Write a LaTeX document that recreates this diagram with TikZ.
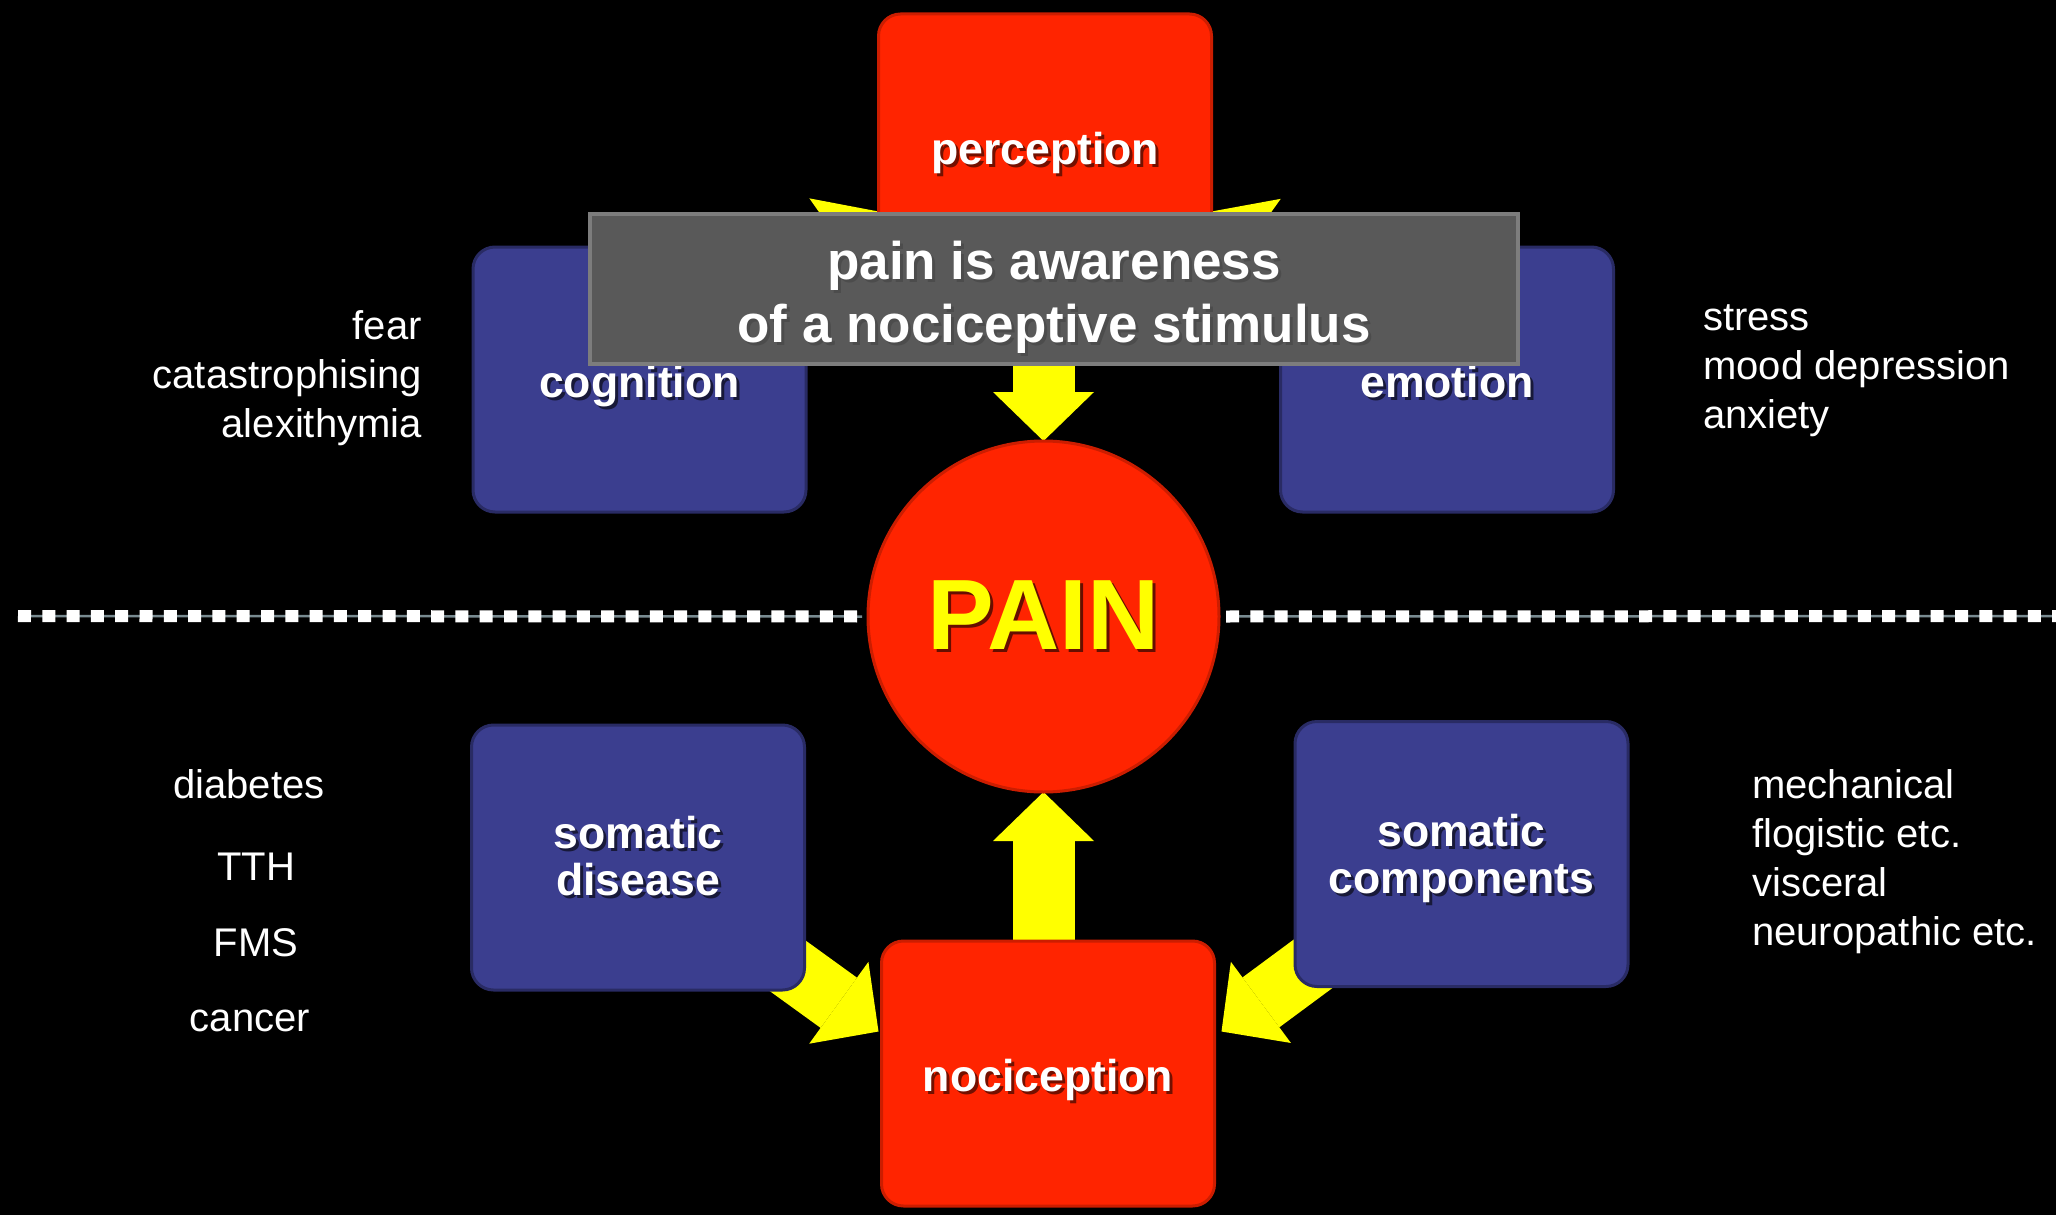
\documentclass[tikz,border=0pt]{standalone}
\usepackage{fontspec}
\setmainfont{Liberation Sans}
\usetikzlibrary{arrows.meta,calc}

\definecolor{painred}{RGB}{255,36,0}
\definecolor{painblue}{RGB}{59,62,143}
\definecolor{bargray}{RGB}{89,89,89}
\definecolor{baredge}{RGB}{125,125,125}
\definecolor{arrowyellow}{RGB}{255,255,0}
\definecolor{dashgray}{RGB}{120,138,144}

\pgfdeclarelayer{bg}
\pgfdeclarelayer{arrowlayer}
\pgfsetlayers{bg,arrowlayer,main}

\newcommand\txtshadow[2][black!70]{\makebox[0pt][l]{\hspace{3pt}\raisebox{-3pt}{\textcolor{#1}{#2}}}#2}

\tikzset{
  redbox/.style={rectangle, rounded corners=22pt, fill=painred, draw=painred!80!black, line width=3pt,
    minimum width=333pt, minimum height=265pt, inner sep=0pt, outer sep=0pt,
    text=white, align=center, font=\fontsize{44.6}{47}\selectfont\bfseries},
  bluebox/.style={redbox, fill=painblue, draw=painblue!70!black},
  oneline/.style={text height=36.6pt, text depth=0pt},
  painball/.style={circle, fill=painred, draw=painred!80!black, line width=3pt, minimum size=351pt,
    inner sep=0pt, outer sep=0pt, text=arrowyellow, font=\fontsize{100}{100}\selectfont\bfseries},
  bigbar/.style={rectangle, fill=bargray, draw=baredge, line width=4pt, minimum width=928pt,
    minimum height=150pt, inner sep=0pt, outer sep=0pt, text=white, align=center,
    font=\fontsize{53}{63}\selectfont\bfseries},
  sidetext/.style={text=white, inner sep=0pt, font=\fontsize{40}{49}\selectfont},
  bigarrow/.style={draw=arrowyellow, line width=62pt, -{Triangle[length=49pt, width=101pt, line width=0pt]}},
  divider/.style={draw=white, line width=12pt, dash pattern=on 13pt off 11.3pt,
    preaction={draw=dashgray, solid, line width=2.5pt}}
}

\begin{document}
\begin{tikzpicture}[x=1pt,y=-1pt]
    \useasboundingbox (0,0) rectangle (2056,1215);
    \begin{pgfonlayer}{bg}
        \fill[black] (0,0) rectangle (2056,1215);
    \end{pgfonlayer}

    \node[redbox, oneline] (perception) at (1045,146.5) {\txtshadow[painred!45!black]{perception}};
    \node[bluebox, oneline] (cognition) at (639.5,379.5) {\txtshadow[painblue!40!black]{cognition}};
    \node[bluebox, oneline] (emotion) at (1447,379.5) {\txtshadow[painblue!40!black]{emotion}};
    \node[bluebox] (disease) at (638,857.5) {\txtshadow[painblue!40!black]{somatic}\\\txtshadow[painblue!40!black]{disease}};
    \node[bluebox] (components) at (1461.5,854) {\txtshadow[painblue!40!black]{somatic}\\\raisebox{0pt}[\height][0pt]{\txtshadow[painblue!40!black]{components}}};
    \node[redbox, oneline] (noci) at (1048,1073.5) {\txtshadow[painred!45!black]{nociception}};
    \node[painball] (pain) at (1043.5,616.5) {\txtshadow[painred!40!black]{PAIN}};
    \node[bigbar] (bar) at (1054,289) {\rule{0pt}{58pt}\txtshadow{pain is awareness}\\\txtshadow{of a nociceptive stimulus}};

    \begin{pgfonlayer}{arrowlayer}
        \draw[bigarrow] (cognition.center) -- ($(perception.west)+(0,65)$);
        \draw[bigarrow] (emotion.center) -- ($(perception.east)+(0,65)$);
        \draw[bigarrow] (pain.north |- bar.center) -- (pain.north);
        \draw[bigarrow] (pain.south |- noci.center) -- (pain.south);
        \draw[bigarrow] (disease.center) -- ($(noci.west)+(-3,-42)$);
        \draw[bigarrow] (components.center) -- ($(noci.east)+(7,-42)$);
    \end{pgfonlayer}

    \coordinate (divleft) at (18,616);
    \coordinate (divright) at (2056,616);
    \draw[divider, shorten >=6pt] (divleft) -- (pain.west);
    \draw[divider, shorten <=7pt] (pain.east) -- (divright);

    \node[sidetext, align=right, anchor=east] (cogtext) at (422,378) {fear\\catastrophising\\alexithymia};
    \node[sidetext, align=left, anchor=west] (emotext) at (1703,371) {stress\\mood depression\\anxiety};
    \node[sidetext] (diabetes) at (249,784) {diabetes};
    \node[sidetext] (tth) at (256,867) {TTH};
    \node[sidetext] (fms) at (256,943) {FMS};
    \node[sidetext] (cancer) at (250,1021) {cancer};
    \node[sidetext, align=left, anchor=west] (comptext) at (1752,862) {mechanical\\flogistic etc.\\visceral\\neuropathic etc.};
\end{tikzpicture}
\end{document}
